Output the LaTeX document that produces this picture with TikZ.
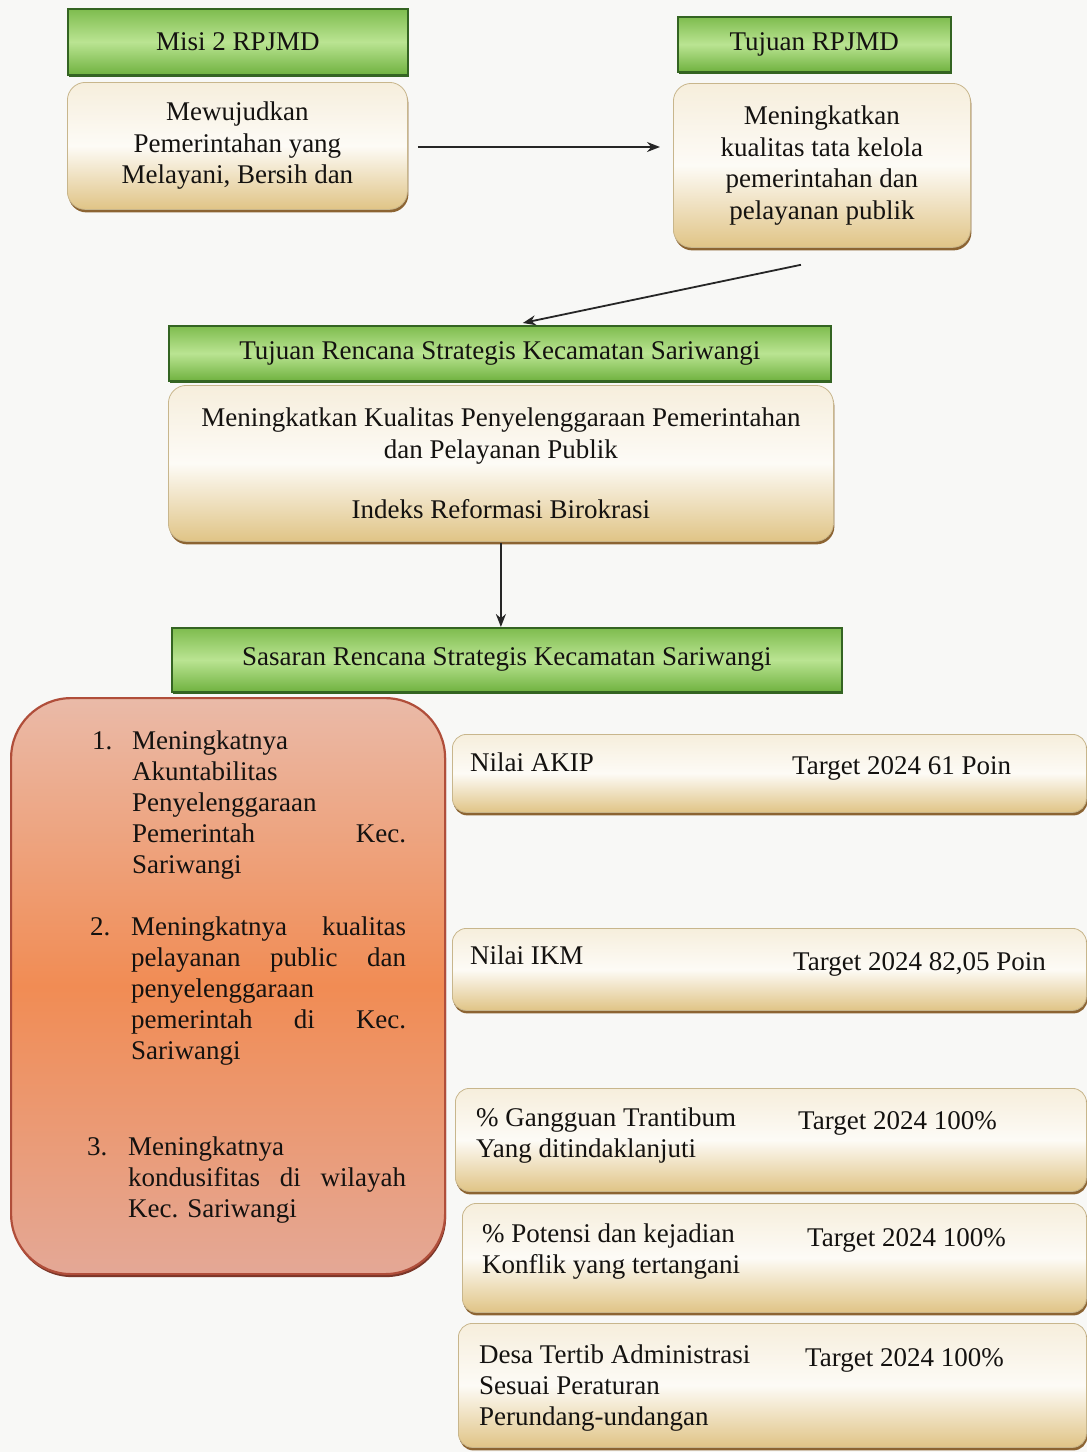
\documentclass[tikz,border=0pt]{standalone}
\usepackage{fontspec}
\setmainfont{Liberation Serif}
\usetikzlibrary{arrows.meta,shadows,calc}
\definecolor{bgc}{RGB}{248,248,246}
\definecolor{gA}{RGB}{126,188,78}
\definecolor{gB}{RGB}{186,228,146}
\definecolor{gC}{RGB}{112,178,64}
\definecolor{gBorder}{RGB}{52,100,34}
\definecolor{cA}{RGB}{246,238,220}
\definecolor{cB}{RGB}{253,251,246}
\definecolor{cC}{RGB}{224,196,134}
\definecolor{cBorder}{RGB}{200,182,140}
\definecolor{cShadow}{RGB}{140,100,50}
\definecolor{oA}{RGB}{234,186,168}
\definecolor{oB}{RGB}{241,140,84}
\definecolor{oC}{RGB}{228,168,150}
\definecolor{oBorder}{RGB}{176,78,58}
\definecolor{txt}{RGB}{20,18,16}
\newcommand\fbody{\fontsize{27}{31.5}\selectfont}
\newcommand\fitem{\fontsize{27}{31}\selectfont}
\begin{document}
\begin{tikzpicture}[x=1pt,y=-1pt,
  hdr/.style={draw=gBorder, line width=1.6pt, top color=gA, bottom color=gC, middle color=gB,
    anchor=north west, inner sep=0pt, font=\fbody, text=txt,
    drop shadow={shadow xshift=1pt, shadow yshift=-2pt, fill=gBorder, opacity=1}},
  cbox/.style={draw=cBorder, line width=0.8pt, rounded corners=18pt, top color=cA, bottom color=cC, middle color=cB,
    anchor=north west, inner sep=0pt, align=center, font=\fbody, text=txt,
    drop shadow={shadow xshift=1pt, shadow yshift=-3pt, fill=cShadow, opacity=1}},
  rbox/.style={cbox, rounded corners=14pt},
  obox/.style={draw=oBorder, line width=2.2pt, rounded corners=60pt, top color=oA, bottom color=oC, middle color=oB,
    anchor=north west, inner sep=0pt,
    drop shadow={shadow xshift=1pt, shadow yshift=-3pt, fill=oBorder!70!black, opacity=1}},
  lbl/.style={anchor=base west, inner sep=0pt, font=\fitem, text=txt},
  arr/.style={line width=1.8pt, draw=black!85, -{Stealth[length=13pt,width=10pt]}}
]
\useasboundingbox (0,0) rectangle (1087,1452);
\fill[bgc] (0,0) rectangle (1087,1452);

% top row
\node[hdr, minimum width=340pt, minimum height=66pt] (misih) at (67,8) {Misi 2 RPJMD};
\node[cbox, minimum width=340pt, minimum height=127pt] (misib) at (67,82)
  {Mewujudkan\\Pemerintahan yang\\Melayani, Bersih dan};
\node[hdr, minimum width=273pt, minimum height=55pt] (tujh) at (677,16) {Tujuan RPJMD};
\node[cbox, minimum width=297pt, minimum height=164pt] (tujb) at (673,83)
  {Meningkatkan\\kualitas tata kelola\\pemerintahan dan\\pelayanan publik};

% middle
\node[hdr, minimum width=662pt, minimum height=55pt] (renh) at (168,325)
  {Tujuan Rencana Strategis Kecamatan Sariwangi};
\node[cbox, minimum width=665pt, minimum height=156pt] (renb) at (168,385)
  {Meningkatkan Kualitas Penyelenggaraan Pemerintahan\\dan Pelayanan Publik\\[29pt]Indeks Reformasi Birokrasi};
\node[hdr, minimum width=670pt, minimum height=64pt] (sash) at (171,627)
  {Sasaran Rencana Strategis Kecamatan Sariwangi};

% connectors
\draw[arr, shorten <=10pt, shorten >=13pt] (misib.east |- 0,147) -- (tujb.west |- 0,147);
\draw[arr] ([xshift=-21pt,yshift=-17pt]tujb.south) -- ([xshift=23pt,yshift=2pt]renh.north);
\draw[arr] ([yshift=-1pt]renb.south) -- (renb.south |- sash.north);

% orange box
\node[obox, minimum width=434pt, minimum height=576pt] (sasb) at (10,697) {};
\node[lbl] (n1) at (92,749) {1.};
\node[lbl] (t1) at (132,749) {\parbox[t]{274pt}{\raggedright Meningkatnya\\Akuntabilitas\\Penyelenggaraan\\\makebox[274pt][s]{Pemerintah Kec.}\\Sariwangi}};
\node[lbl] (n2) at (90,935) {2.};
\node[lbl] (t2) at (131,935) {\parbox[t]{275pt}{\raggedright \makebox[275pt][s]{Meningkatnya kualitas}\\\makebox[275pt][s]{pelayanan public dan}\\penyelenggaraan\\\makebox[275pt][s]{pemerintah di Kec.}\\Sariwangi}};
\node[lbl] (n3) at (87,1155) {3.};
\node[lbl] (t3) at (128,1155) {\parbox[t]{278pt}{\raggedright Meningkatnya\\\makebox[278pt][s]{kondusifitas di wilayah}\\Kec. Sariwangi}};

% right boxes
\node[rbox, minimum width=634pt, minimum height=78pt] (akip) at (452,734) {};
\node[lbl] (akipL) at (470,771) {Nilai AKIP};
\node[lbl] (akipT) at (792,774) {Target 2024 61 Poin};

\node[rbox, minimum width=634pt, minimum height=82pt] (ikm) at (452,928) {};
\node[lbl] (ikmL) at (470,964) {Nilai IKM};
\node[lbl] (ikmT) at (793,970) {Target 2024 82,05 Poin};

\node[rbox, minimum width=631pt, minimum height=103pt] (gang) at (455,1088) {};
\node[lbl] (gangL) at (476,1126) {\parbox[t]{310pt}{\raggedright\% Gangguan Trantibum\\Yang ditindaklanjuti}};
\node[lbl] (gangT) at (798,1129) {Target 2024 100\%};

\node[rbox, minimum width=624pt, minimum height=109pt] (pot) at (462,1203) {};
\node[lbl] (potL) at (482,1242) {\parbox[t]{310pt}{\raggedright\% Potensi dan kejadian\\Konflik yang tertangani}};
\node[lbl] (potT) at (807,1246) {Target 2024 100\%};

\node[rbox, minimum width=628pt, minimum height=124pt] (desa) at (458,1323) {};
\node[lbl] (desaL) at (479,1363) {\parbox[t]{310pt}{\raggedright Desa Tertib Administrasi\\Sesuai Peraturan\\Perundang-undangan}};
\node[lbl] (desaT) at (805,1366) {Target 2024 100\%};
\end{tikzpicture}
\end{document}
